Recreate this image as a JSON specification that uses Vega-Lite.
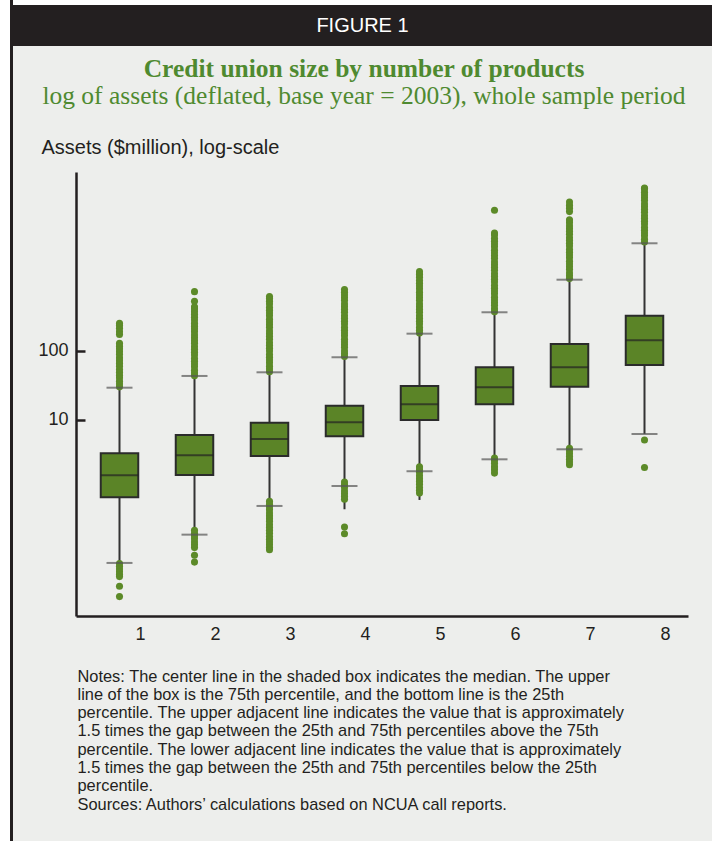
{
  "$schema": "https://vega.github.io/schema/vega-lite/v6.json",
  "background": "#edeeec",
  "padding": 0,
  "spacing": 0,
  "config": {"view": {"stroke": null}},
  "datasets": {
    "blank": [{}],
    "boxes": [
      {"p": 1, "lo": -1.072, "wlo": -1.072, "q1": -0.120, "med": 0.199, "q3": 0.517, "hi": 1.468},
      {"p": 2, "lo": -0.662, "wlo": -0.662, "q1": 0.203, "med": 0.488, "q3": 0.783, "hi": 1.638},
      {"p": 3, "lo": -0.246, "wlo": -0.246, "q1": 0.478, "med": 0.725, "q3": 0.961, "hi": 1.691},
      {"p": 4, "lo": 0.043, "wlo": -0.294, "q1": 0.764, "med": 0.967, "q3": 1.207, "hi": 1.909},
      {"p": 5, "lo": 0.257, "wlo": -0.159, "q1": 1.000, "med": 1.228, "q3": 1.493, "hi": 2.251},
      {"p": 6, "lo": 0.430, "wlo": 0.430, "q1": 1.228, "med": 1.474, "q3": 1.764, "hi": 2.561},
      {"p": 7, "lo": 0.575, "wlo": 0.575, "q1": 1.483, "med": 1.764, "q3": 2.101, "hi": 3.033},
      {"p": 8, "lo": 0.797, "wlo": 0.797, "q1": 1.797, "med": 2.155, "q3": 2.512, "hi": 3.561}
    ],
    "outliers": [
      {"p":1,"v":1.48},{"p":1,"v":1.52},{"p":1,"v":1.56},{"p":1,"v":1.61},{"p":1,"v":1.65},{"p":1,"v":1.69},{"p":1,"v":1.73},{"p":1,"v":1.78},{"p":1,"v":1.82},{"p":1,"v":1.86},{"p":1,"v":1.90},{"p":1,"v":1.95},{"p":1,"v":1.99},{"p":1,"v":2.03},{"p":1,"v":2.07},{"p":1,"v":2.11},{"p":1,"v":2.24},{"p":1,"v":2.28},{"p":1,"v":2.33},{"p":1,"v":2.37},{"p":1,"v":2.40},
      {"p":1,"v":-1.08},{"p":1,"v":-1.12},{"p":1,"v":-1.16},{"p":1,"v":-1.20},{"p":1,"v":-1.24},{"p":1,"v":-1.27},{"p":1,"v":-1.41},{"p":1,"v":-1.56},
      {"p":2,"v":1.64},{"p":2,"v":1.68},{"p":2,"v":1.72},{"p":2,"v":1.77},{"p":2,"v":1.81},{"p":2,"v":1.85},{"p":2,"v":1.89},{"p":2,"v":1.94},{"p":2,"v":1.98},{"p":2,"v":2.02},{"p":2,"v":2.06},{"p":2,"v":2.11},{"p":2,"v":2.15},{"p":2,"v":2.19},{"p":2,"v":2.23},{"p":2,"v":2.28},{"p":2,"v":2.32},{"p":2,"v":2.36},{"p":2,"v":2.40},{"p":2,"v":2.45},{"p":2,"v":2.49},{"p":2,"v":2.53},{"p":2,"v":2.57},{"p":2,"v":2.61},{"p":2,"v":2.64},{"p":2,"v":2.72},{"p":2,"v":2.86},
      {"p":2,"v":-0.60},{"p":2,"v":-0.64},{"p":2,"v":-0.68},{"p":2,"v":-0.72},{"p":2,"v":-0.77},{"p":2,"v":-0.81},{"p":2,"v":-0.85},{"p":2,"v":-0.96},{"p":2,"v":-1.06},
      {"p":3,"v":1.70},{"p":3,"v":1.74},{"p":3,"v":1.78},{"p":3,"v":1.83},{"p":3,"v":1.87},{"p":3,"v":1.91},{"p":3,"v":1.95},{"p":3,"v":2.00},{"p":3,"v":2.04},{"p":3,"v":2.08},{"p":3,"v":2.12},{"p":3,"v":2.17},{"p":3,"v":2.21},{"p":3,"v":2.25},{"p":3,"v":2.29},{"p":3,"v":2.34},{"p":3,"v":2.38},{"p":3,"v":2.42},{"p":3,"v":2.46},{"p":3,"v":2.51},{"p":3,"v":2.55},{"p":3,"v":2.59},{"p":3,"v":2.63},{"p":3,"v":2.68},{"p":3,"v":2.72},{"p":3,"v":2.76},{"p":3,"v":2.79},
      {"p":3,"v":-0.18},{"p":3,"v":-0.22},{"p":3,"v":-0.26},{"p":3,"v":-0.30},{"p":3,"v":-0.35},{"p":3,"v":-0.39},{"p":3,"v":-0.43},{"p":3,"v":-0.47},{"p":3,"v":-0.52},{"p":3,"v":-0.56},{"p":3,"v":-0.60},{"p":3,"v":-0.64},{"p":3,"v":-0.69},{"p":3,"v":-0.73},{"p":3,"v":-0.77},{"p":3,"v":-0.81},{"p":3,"v":-0.85},{"p":3,"v":-0.88},
      {"p":4,"v":1.92},{"p":4,"v":1.96},{"p":4,"v":2.00},{"p":4,"v":2.05},{"p":4,"v":2.09},{"p":4,"v":2.13},{"p":4,"v":2.17},{"p":4,"v":2.22},{"p":4,"v":2.26},{"p":4,"v":2.30},{"p":4,"v":2.34},{"p":4,"v":2.39},{"p":4,"v":2.43},{"p":4,"v":2.47},{"p":4,"v":2.51},{"p":4,"v":2.56},{"p":4,"v":2.60},{"p":4,"v":2.64},{"p":4,"v":2.68},{"p":4,"v":2.73},{"p":4,"v":2.77},{"p":4,"v":2.81},{"p":4,"v":2.85},{"p":4,"v":2.89},
      {"p":4,"v":0.10},{"p":4,"v":0.06},{"p":4,"v":0.02},{"p":4,"v":-0.03},{"p":4,"v":-0.07},{"p":4,"v":-0.11},{"p":4,"v":-0.15},{"p":4,"v":-0.55},{"p":4,"v":-0.65},
      {"p":5,"v":2.26},{"p":5,"v":2.30},{"p":5,"v":2.34},{"p":5,"v":2.39},{"p":5,"v":2.43},{"p":5,"v":2.47},{"p":5,"v":2.51},{"p":5,"v":2.56},{"p":5,"v":2.60},{"p":5,"v":2.64},{"p":5,"v":2.68},{"p":5,"v":2.73},{"p":5,"v":2.77},{"p":5,"v":2.81},{"p":5,"v":2.85},{"p":5,"v":2.90},{"p":5,"v":2.94},{"p":5,"v":2.98},{"p":5,"v":3.02},{"p":5,"v":3.07},{"p":5,"v":3.11},{"p":5,"v":3.15},
      {"p":5,"v":0.32},{"p":5,"v":0.28},{"p":5,"v":0.24},{"p":5,"v":0.19},{"p":5,"v":0.15},{"p":5,"v":0.11},{"p":5,"v":0.07},{"p":5,"v":0.02},{"p":5,"v":-0.02},{"p":5,"v":-0.06},
      {"p":6,"v":2.57},{"p":6,"v":2.61},{"p":6,"v":2.66},{"p":6,"v":2.70},{"p":6,"v":2.74},{"p":6,"v":2.78},{"p":6,"v":2.83},{"p":6,"v":2.87},{"p":6,"v":2.91},{"p":6,"v":2.95},{"p":6,"v":3.00},{"p":6,"v":3.04},{"p":6,"v":3.08},{"p":6,"v":3.12},{"p":6,"v":3.17},{"p":6,"v":3.21},{"p":6,"v":3.25},{"p":6,"v":3.29},{"p":6,"v":3.34},{"p":6,"v":3.38},{"p":6,"v":3.42},{"p":6,"v":3.46},{"p":6,"v":3.51},{"p":6,"v":3.55},{"p":6,"v":3.59},{"p":6,"v":3.63},{"p":6,"v":3.68},{"p":6,"v":3.71},{"p":6,"v":4.04},
      {"p":6,"v":0.45},{"p":6,"v":0.41},{"p":6,"v":0.37},{"p":6,"v":0.32},{"p":6,"v":0.28},{"p":6,"v":0.23},
      {"p":7,"v":3.05},{"p":7,"v":3.09},{"p":7,"v":3.13},{"p":7,"v":3.18},{"p":7,"v":3.22},{"p":7,"v":3.26},{"p":7,"v":3.30},{"p":7,"v":3.35},{"p":7,"v":3.39},{"p":7,"v":3.43},{"p":7,"v":3.47},{"p":7,"v":3.52},{"p":7,"v":3.56},{"p":7,"v":3.60},{"p":7,"v":3.64},{"p":7,"v":3.69},{"p":7,"v":3.73},{"p":7,"v":3.77},{"p":7,"v":3.81},{"p":7,"v":3.86},{"p":7,"v":3.90},{"p":7,"v":4.02},{"p":7,"v":4.07},{"p":7,"v":4.11},{"p":7,"v":4.16},
      {"p":7,"v":0.59},{"p":7,"v":0.55},{"p":7,"v":0.51},{"p":7,"v":0.47},{"p":7,"v":0.43},{"p":7,"v":0.39},{"p":7,"v":0.35},
      {"p":8,"v":3.58},{"p":8,"v":3.62},{"p":8,"v":3.67},{"p":8,"v":3.71},{"p":8,"v":3.75},{"p":8,"v":3.79},{"p":8,"v":3.84},{"p":8,"v":3.88},{"p":8,"v":3.92},{"p":8,"v":3.96},{"p":8,"v":4.01},{"p":8,"v":4.05},{"p":8,"v":4.09},{"p":8,"v":4.13},{"p":8,"v":4.18},{"p":8,"v":4.22},{"p":8,"v":4.26},{"p":8,"v":4.30},{"p":8,"v":4.35},{"p":8,"v":4.36},
      {"p":8,"v":0.71},{"p":8,"v":0.31}
    ]
  },
  "hconcat": [
    {"width": 10, "height": 841, "data": {"name": "blank"}, "mark": {"type": "point", "size": 0, "opacity": 0}, "view": {"fill": "white", "stroke": null}},
    {"width": 3, "height": 841, "data": {"name": "blank"}, "mark": {"type": "point", "size": 0, "opacity": 0}, "view": {"fill": "#231f20", "stroke": null}},
    {
      "spacing": 0,
      "vconcat": [
        {"width": 699, "height": 5, "data": {"name": "blank"}, "mark": {"type": "point", "size": 0, "opacity": 0}, "view": {"fill": "white", "stroke": null}},
        {"width": 699, "height": 41, "data": {"name": "blank"}, "mark": {"type": "text", "text": "FIGURE 1", "color": "white", "font": "Liberation Sans", "fontSize": 20, "align": "center", "baseline": "middle"}, "view": {"fill": "#231f20", "stroke": null}},
        {"width": 1, "height": 10, "data": {"name": "blank"}, "mark": {"type": "point", "size": 0, "opacity": 0}},
        {
          "spacing": 0,
          "hconcat": [
            {"width": 24, "height": 1, "data": {"name": "blank"}, "mark": {"type": "point", "size": 0, "opacity": 0}},
            {
              "width": 612,
              "height": 444,
              "title": {
                "text": "Credit union size by number of products",
                "subtitle": "log of assets (deflated, base year = 2003), whole sample period",
                "anchor": "middle", "frame": "group", "dx": -18, "offset": 28,
                "font": "Liberation Serif", "fontSize": 25.5, "fontWeight": "bold", "color": "#4f8a30",
                "subtitleFont": "Liberation Serif", "subtitleFontSize": 25.5, "subtitleColor": "#4f8a30", "subtitlePadding": 1.5
              },
              "resolve": {"scale": {"y": "shared"}, "axis": {"y": "independent"}},
              "encoding": {
                "x": {
                  "field": "p", "type": "ordinal",
                  "scale": {"type": "band", "paddingInner": 0.5, "paddingOuter": 0.33},
                  "axis": {
                    "title": [
                      "Notes: The center line in the shaded box indicates the median. The upper",
                      "line of the box is the 75th percentile, and the bottom line is the 25th",
                      "percentile. The upper adjacent line indicates the value that is approximately",
                      "1.5 times the gap between the 25th and 75th percentiles above the 75th",
                      "percentile. The lower adjacent line indicates the value that is approximately",
                      "1.5 times the gap between the 25th and 75th percentiles below the 25th",
                      "percentile.",
                      "Sources: Authors’ calculations based on NCUA call reports."
                    ],
                    "titleX": 1, "titleY": 52, "titleAlign": "left", "titleAnchor": "start", "titleBaseline": "top", "titleAngle": 0,
                    "titleFont": "Liberation Sans", "titleFontSize": 16.4, "titleFontWeight": "normal", "titleColor": "#231f20", "titleLineHeight": 18.3,
                    "labelAngle": 0, "labelOffset": 21, "labelPadding": 9, "labelFontSize": 18, "labelFont": "Liberation Sans", "labelColor": "#231f20",
                    "ticks": false, "domainColor": "#231f20", "domainWidth": 2.5, "grid": false
                  }
                }
              },
              "layer": [
                {
                  "data": {"name": "boxes"},
                  "mark": {"type": "rule", "color": "#333333", "strokeWidth": 2},
                  "encoding": {
                    "y": {
                      "field": "wlo", "type": "quantitative",
                      "scale": {"domain": [-1.841, 4.594], "nice": false, "zero": false},
                      "axis": {
                        "orient": "left",
                        "title": "Assets ($million), log-scale",
                        "titleAngle": 0, "titleAlign": "left", "titleX": -35, "titleY": -19, "titleBaseline": "alphabetic",
                        "titleFont": "Liberation Sans", "titleFontSize": 20, "titleFontWeight": "normal", "titleColor": "#231f20",
                        "values": [1, 2], "labelExpr": "format(pow(10, datum.value), 'd')",
                        "labelFont": "Liberation Sans", "labelFontSize": 18, "labelColor": "#231f20", "labelPadding": 8,
                        "ticks": false,
                        "domainColor": "#231f20", "domainWidth": 2.5, "grid": false
                      }
                    },
                    "y2": {"field": "hi"}
                  }
                },
                {
                  "data": {"name": "boxes"},
                  "mark": {"type": "tick", "size": 37.5, "thickness": 2, "color": "#222222"},
                  "encoding": {
                    "y": {
                      "field": "med", "type": "quantitative",
                      "scale": {"domain": [-1.841, 4.594], "nice": false, "zero": false},
                      "axis": {
                        "orient": "right", "offset": -612, "values": [1, 2],
                        "labels": false, "domain": false, "title": null, "grid": false,
                        "ticks": true, "tickSize": 9, "tickWidth": 2.5, "tickColor": "#231f20"
                      }
                    }
                  }
                },
                {
                  "data": {"name": "outliers"},
                  "mark": {"type": "point", "filled": true, "size": 50, "color": "#5c8a28", "opacity": 1},
                  "encoding": {
                    "y": {"field": "v", "type": "quantitative", "scale": {"domain": [-1.841, 4.594], "nice": false, "zero": false}, "axis": null}
                  }
                },
                {
                  "data": {"name": "boxes"},
                  "mark": {"type": "tick", "size": 26, "thickness": 2, "color": "#555555"},
                  "encoding": {
                    "y": {"field": "lo", "type": "quantitative", "scale": {"domain": [-1.841, 4.594], "nice": false, "zero": false}, "axis": null}
                  }
                },
                {
                  "data": {"name": "boxes"},
                  "mark": {"type": "tick", "size": 26, "thickness": 2, "color": "#555555"},
                  "encoding": {
                    "y": {"field": "hi", "type": "quantitative", "scale": {"domain": [-1.841, 4.594], "nice": false, "zero": false}, "axis": null}
                  }
                },
                {
                  "data": {"name": "boxes"},
                  "mark": {"type": "bar", "color": "#5b8427", "stroke": "#2b2b2b", "strokeWidth": 2},
                  "encoding": {
                    "y": {"field": "q1", "type": "quantitative", "scale": {"domain": [-1.841, 4.594], "nice": false, "zero": false}, "axis": null},
                    "y2": {"field": "q3"}
                  }
                },
                {
                  "data": {"name": "boxes"},
                  "mark": {"type": "tick", "size": 37.5, "thickness": 2, "color": "#222222"},
                  "encoding": {
                    "y": {"field": "med", "type": "quantitative", "scale": {"domain": [-1.841, 4.594], "nice": false, "zero": false}, "axis": null}
                  }
                }
              ]
            }
          ]
        }
      ]
    }
  ]
}
